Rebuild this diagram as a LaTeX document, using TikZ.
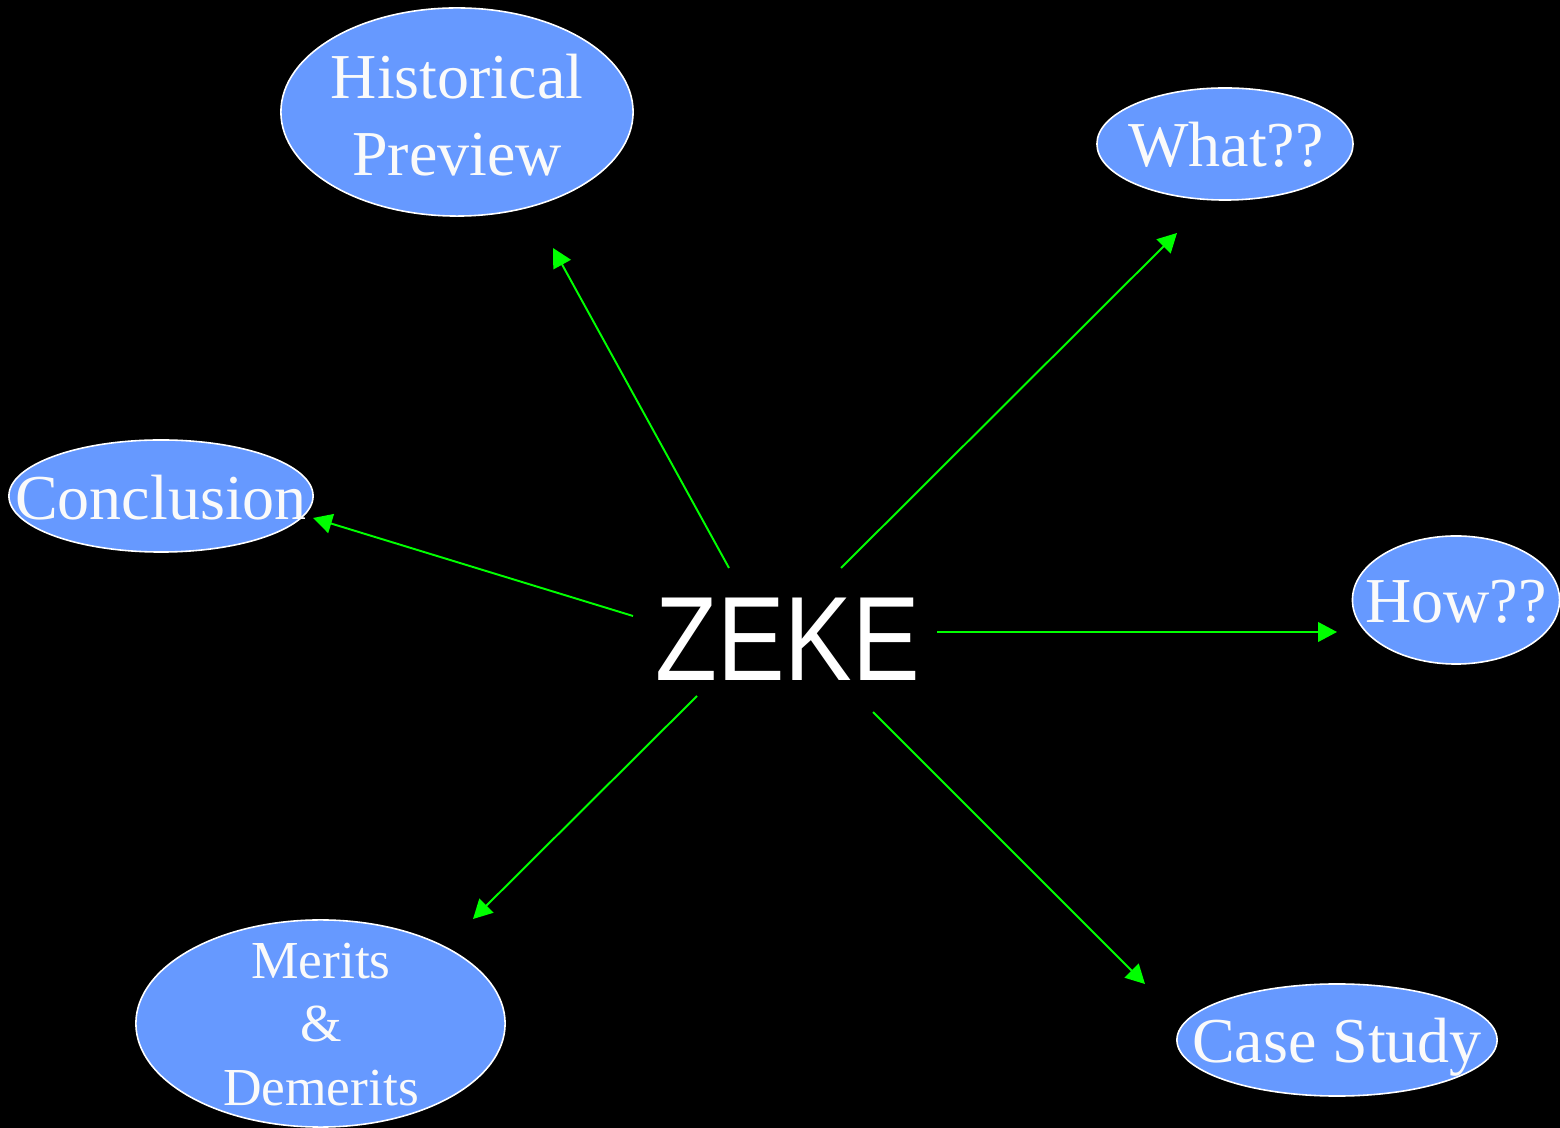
\documentclass[tikz,border=0pt]{standalone}
\usepackage{fontspec}
\setmainfont{Liberation Serif}
\newfontfamily\zekefont[FakeStretch=0.845]{Liberation Sans}
\usetikzlibrary{shapes.geometric,arrows.meta}
\definecolor{bubblefill}{RGB}{102,153,255}
\definecolor{arrowgreen}{RGB}{0,255,0}
\definecolor{textwhite}{RGB}{250,250,250}
\tikzset{
  bubble/.style={ellipse, draw=white, line width=0.45pt, fill=bubblefill, inner sep=0pt},
  bubbletext/.style={text=textwhite, align=center, inner sep=0pt, font=\fontsize{18.2}{21.9}\selectfont},
  smalltext/.style={text=textwhite, align=center, inner sep=0pt, font=\fontsize{15.2}{18.1}\selectfont},
  link/.style={draw=arrowgreen, line width=0.55pt, -{Triangle[length=5.4pt,width=5.6pt]}}
}
\begin{document}
\begin{tikzpicture}[x=0.01cm,y=-0.01cm]
\fill[black] (0,0) rectangle (1560,1128);
\useasboundingbox (0,0) rectangle (1560,1128);

% bubbles
\node[bubble, minimum width=3.52cm, minimum height=2.08cm] (hist) at (457,112) {};
\node[bubble, minimum width=2.56cm, minimum height=1.12cm] (what) at (1225,144) {};
\node[bubble, minimum width=3.04cm, minimum height=1.12cm] (concl) at (161,496) {};
\node[bubble, minimum width=2.07cm, minimum height=1.28cm] (how) at (1456,600) {};
\node[bubble, minimum width=3.69cm, minimum height=2.07cm] (merits) at (320.5,1023.5) {};
\node[bubble, minimum width=3.20cm, minimum height=1.12cm] (case) at (1337,1040) {};

% texts
\node[bubbletext] (histt) at (457,115) {Historical\\Preview};
\node[bubbletext, anchor=base] (whatt) at (1226,167) {What??};
\node[bubbletext, anchor=base] (conclt) at (161,520) {Conclusion};
\node[bubbletext, anchor=base] (howt) at (1456,623) {How??};
\node[smalltext] (meritst) at (321,1024.5) {Merits\\\&\\Demerits};
\node[bubbletext, anchor=base] (caset) at (1337,1063) {Case Study};

\node[text=white, inner sep=0pt, anchor=base, font=\zekefont\fontsize{34.1}{40}\selectfont] (zeke) at (787.5,681) {ZEKE};

% connector ends
\coordinate (s1) at (729,568);  \coordinate (e1) at (553,248);
\coordinate (s2) at (841,568);  \coordinate (e2) at (1177,233);
\coordinate (s3) at (633,616);  \coordinate (e3) at (313,518);
\coordinate (s4) at (937,632);  \coordinate (e4) at (1337,632);
\coordinate (s5) at (697,696);  \coordinate (e5) at (473,919);
\coordinate (s6) at (873,712);  \coordinate (e6) at (1145,984);

\draw[link] (s1) -- (e1);
\draw[link] (s2) -- (e2);
\draw[link] (s3) -- (e3);
\draw[link] (s4) -- (e4);
\draw[link] (s5) -- (e5);
\draw[link] (s6) -- (e6);
\end{tikzpicture}
\end{document}
